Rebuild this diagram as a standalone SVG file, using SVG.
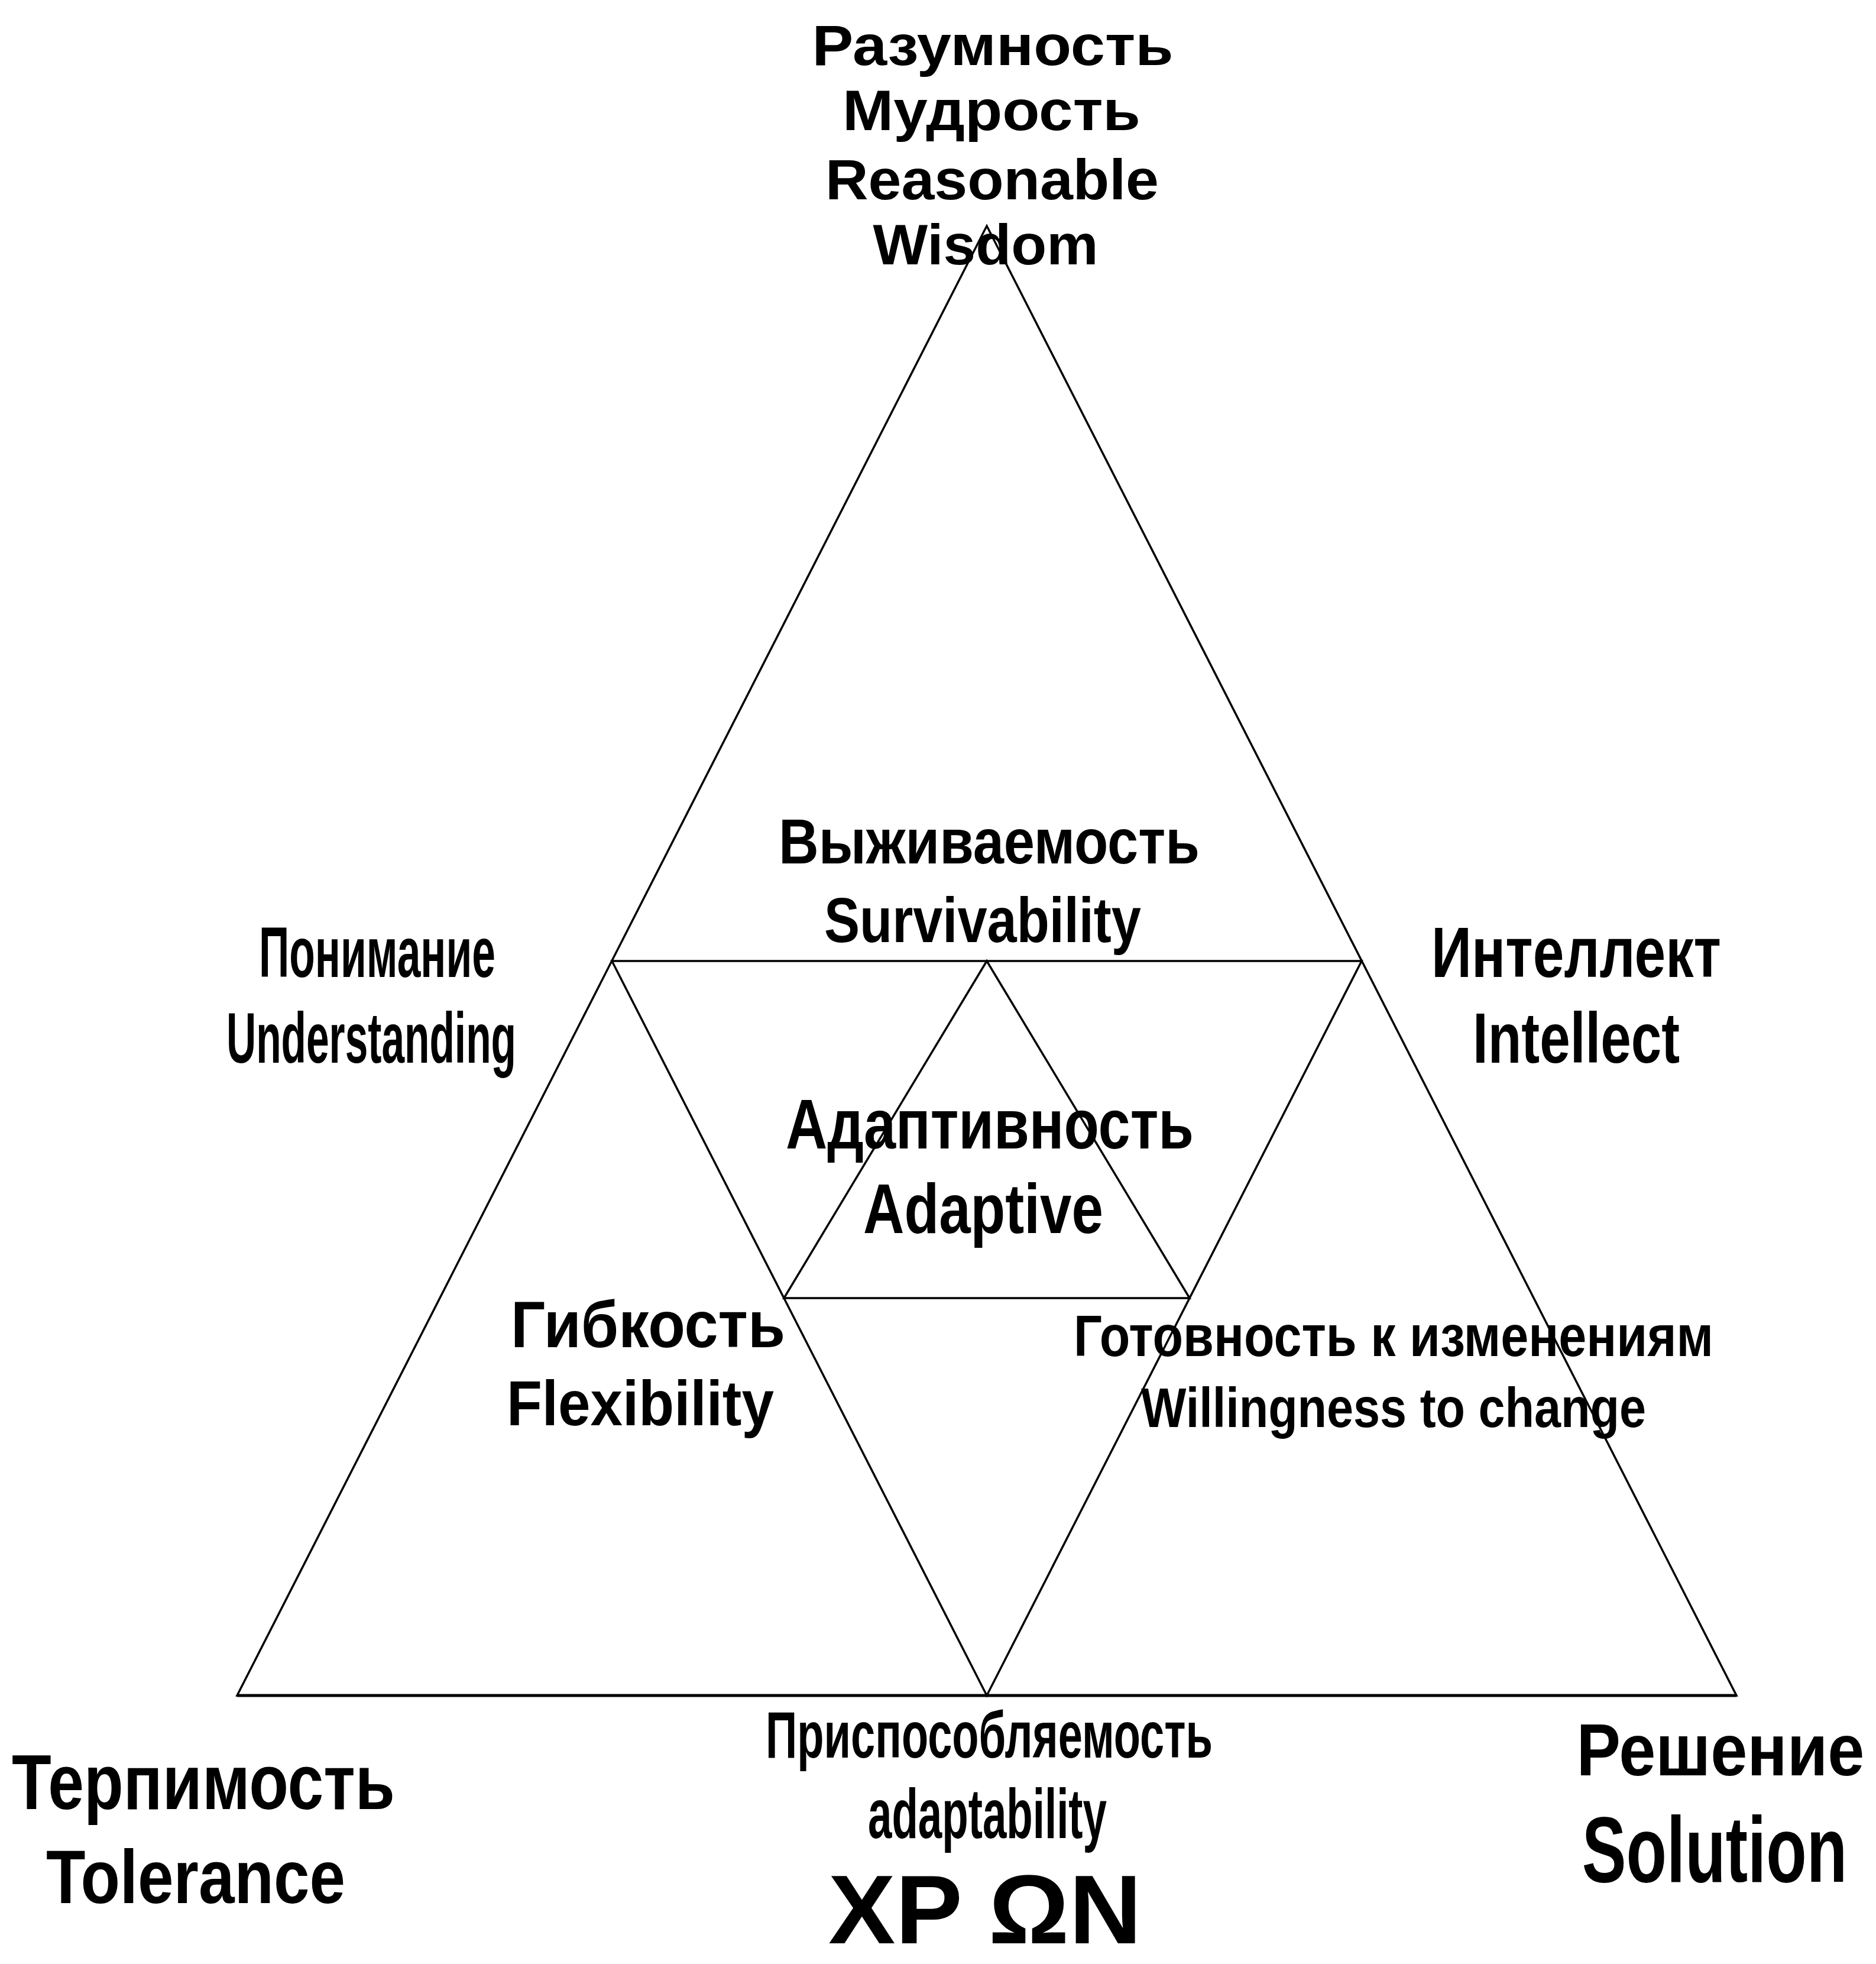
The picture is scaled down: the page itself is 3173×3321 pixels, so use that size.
<svg xmlns="http://www.w3.org/2000/svg" width="3173" height="3321" viewBox="0 0 3173 3321">
<style>
.bg{fill:#ffffff}
.ln{fill:none;stroke:#000;stroke-width:3.5;stroke-linejoin:miter}
.base{fill:none;stroke:#000;stroke-width:5}
text{font-family:"Liberation Sans",Arial,sans-serif;font-weight:bold;fill:#000;text-anchor:middle}
</style>
<rect class="bg" x="0" y="0" width="3173" height="3321"/>
<g id="connectors">
  <polygon class="ln" points="1669,382 2937,2867 401,2867"/>
  <line class="base" x1="401" y1="2867" x2="2937" y2="2867"/>
  <polygon class="ln" points="1035,1625 2303,1625 1669,2867"/>
  <polygon class="ln" points="1669,1625 2012,2195 1326,2195"/>
</g>
<g id="node-top">
  <text x="1679" y="110" font-size="96" textLength="611" lengthAdjust="spacingAndGlyphs">Разумность</text>
  <text x="1677" y="220" font-size="96" textLength="504" lengthAdjust="spacingAndGlyphs">Мудрость</text>
  <text x="1678" y="337" font-size="96" textLength="564" lengthAdjust="spacingAndGlyphs">Reasonable</text>
  <text x="1667" y="447" font-size="96" textLength="381" lengthAdjust="spacingAndGlyphs">Wisdom</text>
</g>
<g id="node-survivability">
  <text x="1673" y="1460" font-size="108" textLength="712" lengthAdjust="spacingAndGlyphs">Выживаемость</text>
  <text x="1662" y="1593" font-size="108" textLength="536" lengthAdjust="spacingAndGlyphs">Survivability</text>
</g>
<g id="node-understanding">
  <text x="638" y="1652" font-size="120" textLength="400" lengthAdjust="spacingAndGlyphs">Понимание</text>
  <text x="628" y="1797" font-size="120" textLength="490" lengthAdjust="spacingAndGlyphs">Understanding</text>
</g>
<g id="node-intellect">
  <text x="2666" y="1652" font-size="120" textLength="490" lengthAdjust="spacingAndGlyphs">Интеллект</text>
  <text x="2666" y="1797" font-size="120" textLength="350" lengthAdjust="spacingAndGlyphs">Intellect</text>
</g>
<g id="node-adaptive">
  <text x="1674" y="1942" font-size="118" textLength="690" lengthAdjust="spacingAndGlyphs">Адаптивность</text>
  <text x="1663" y="2085" font-size="118" textLength="406" lengthAdjust="spacingAndGlyphs">Adaptive</text>
</g>
<g id="node-flexibility">
  <text x="1096" y="2278" font-size="112" textLength="464" lengthAdjust="spacingAndGlyphs">Гибкость</text>
  <text x="1083" y="2410" font-size="108" textLength="452" lengthAdjust="spacingAndGlyphs">Flexibility</text>
</g>
<g id="node-willingness">
  <text x="2357" y="2293" font-size="98" textLength="1082" lengthAdjust="spacingAndGlyphs">Готовность к изменениям</text>
  <text x="2357" y="2413" font-size="94" textLength="854" lengthAdjust="spacingAndGlyphs">Willingness to change</text>
</g>
<g id="node-adaptability">
  <text x="1673" y="2972" font-size="112" textLength="756" lengthAdjust="spacingAndGlyphs">Приспособляемость</text>
  <text x="1670" y="3108" font-size="118" textLength="404" lengthAdjust="spacingAndGlyphs">adaptability</text>
  <text x="1666" y="3286" font-size="166" textLength="530" lengthAdjust="spacingAndGlyphs">XP ΩN</text>
</g>
<g id="node-tolerance">
  <text x="344" y="3059" font-size="131" textLength="648" lengthAdjust="spacingAndGlyphs">Терпимость</text>
  <text x="331" y="3218" font-size="128" textLength="506" lengthAdjust="spacingAndGlyphs">Tolerance</text>
</g>
<g id="node-solution">
  <text transform="translate(2910,3002) scale(0.9,1)" font-size="124">Решение</text>
  <text transform="translate(2900,3182) scale(0.71,1)" font-size="158">Solution</text>
</g>
</svg>
